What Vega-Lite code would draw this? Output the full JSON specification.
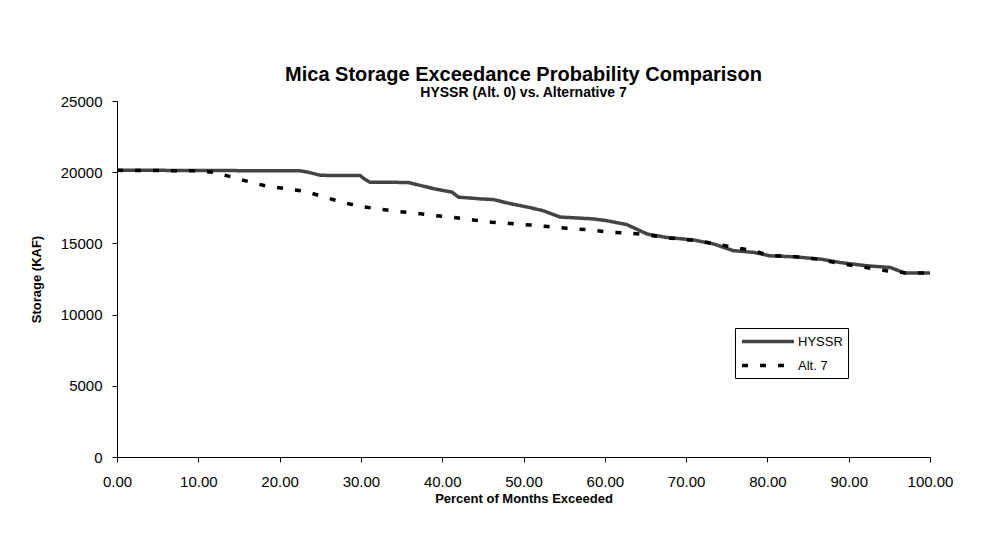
{
  "$schema": "https://vega.github.io/schema/vega-lite/v6.json",
  "width": 813,
  "height": 356,
  "autosize": {"type": "none"},
  "padding": {"left": 117, "top": 101, "right": 53, "bottom": 101},
  "background": "white",
  "title": {
    "text": "Mica Storage Exceedance Probability Comparison",
    "subtitle": "HYSSR (Alt. 0) vs. Alternative 7",
    "anchor": "middle",
    "font": "Liberation Sans",
    "fontSize": 20,
    "fontWeight": "bold",
    "color": "black",
    "subtitleFont": "Liberation Sans",
    "subtitleFontSize": 14,
    "subtitleFontWeight": "bold",
    "subtitleColor": "black",
    "subtitlePadding": 1,
    "offset": -6
  },
  "data": {
    "values": [
      {"series": "HYSSR", "pct": 0, "storage": 20130},
      {"series": "HYSSR", "pct": 5, "storage": 20130},
      {"series": "HYSSR", "pct": 10, "storage": 20120},
      {"series": "HYSSR", "pct": 15, "storage": 20110},
      {"series": "HYSSR", "pct": 22.5, "storage": 20100},
      {"series": "HYSSR", "pct": 23.5, "storage": 20000},
      {"series": "HYSSR", "pct": 25, "storage": 19780},
      {"series": "HYSSR", "pct": 29.9, "storage": 19760},
      {"series": "HYSSR", "pct": 30.5, "storage": 19500},
      {"series": "HYSSR", "pct": 31.1, "storage": 19300},
      {"series": "HYSSR", "pct": 35.8, "storage": 19280},
      {"series": "HYSSR", "pct": 38.9, "storage": 18850},
      {"series": "HYSSR", "pct": 41.2, "storage": 18600},
      {"series": "HYSSR", "pct": 42, "storage": 18250},
      {"series": "HYSSR", "pct": 44.6, "storage": 18130},
      {"series": "HYSSR", "pct": 46.3, "storage": 18080},
      {"series": "HYSSR", "pct": 48.3, "storage": 17800},
      {"series": "HYSSR", "pct": 50.5, "storage": 17550},
      {"series": "HYSSR", "pct": 52.4, "storage": 17300},
      {"series": "HYSSR", "pct": 54.5, "storage": 16850},
      {"series": "HYSSR", "pct": 58.6, "storage": 16720},
      {"series": "HYSSR", "pct": 60.2, "storage": 16600},
      {"series": "HYSSR", "pct": 62.7, "storage": 16320},
      {"series": "HYSSR", "pct": 65.2, "storage": 15660},
      {"series": "HYSSR", "pct": 67.6, "storage": 15420},
      {"series": "HYSSR", "pct": 70.9, "storage": 15240},
      {"series": "HYSSR", "pct": 73.4, "storage": 14960},
      {"series": "HYSSR", "pct": 75.8, "storage": 14490},
      {"series": "HYSSR", "pct": 78.3, "storage": 14370},
      {"series": "HYSSR", "pct": 80.3, "storage": 14130},
      {"series": "HYSSR", "pct": 83.2, "storage": 14060},
      {"series": "HYSSR", "pct": 86.5, "storage": 13900},
      {"series": "HYSSR", "pct": 88.9, "storage": 13660},
      {"series": "HYSSR", "pct": 92.2, "storage": 13430},
      {"series": "HYSSR", "pct": 95.1, "storage": 13310},
      {"series": "HYSSR", "pct": 96.9, "storage": 12920},
      {"series": "HYSSR", "pct": 100, "storage": 12920},
      {"series": "Alt. 7", "pct": 0, "storage": 20130},
      {"series": "Alt. 7", "pct": 9.4, "storage": 20100},
      {"series": "Alt. 7", "pct": 11.8, "storage": 20000},
      {"series": "Alt. 7", "pct": 14.1, "storage": 19670},
      {"series": "Alt. 7", "pct": 16.4, "storage": 19300},
      {"series": "Alt. 7", "pct": 18.6, "storage": 19000},
      {"series": "Alt. 7", "pct": 20.9, "storage": 18830},
      {"series": "Alt. 7", "pct": 23.1, "storage": 18660},
      {"series": "Alt. 7", "pct": 25.3, "storage": 18290},
      {"series": "Alt. 7", "pct": 27.7, "storage": 17890},
      {"series": "Alt. 7", "pct": 29.9, "storage": 17600},
      {"series": "Alt. 7", "pct": 32.1, "storage": 17420},
      {"series": "Alt. 7", "pct": 34.4, "storage": 17250},
      {"series": "Alt. 7", "pct": 36.9, "storage": 17110},
      {"series": "Alt. 7", "pct": 39.1, "storage": 16950},
      {"series": "Alt. 7", "pct": 41.3, "storage": 16830},
      {"series": "Alt. 7", "pct": 43.8, "storage": 16650},
      {"series": "Alt. 7", "pct": 46.1, "storage": 16480},
      {"series": "Alt. 7", "pct": 48.3, "storage": 16400},
      {"series": "Alt. 7", "pct": 50.7, "storage": 16300},
      {"series": "Alt. 7", "pct": 53, "storage": 16180},
      {"series": "Alt. 7", "pct": 55.3, "storage": 16060},
      {"series": "Alt. 7", "pct": 57.7, "storage": 15970},
      {"series": "Alt. 7", "pct": 59.9, "storage": 15830},
      {"series": "Alt. 7", "pct": 62.3, "storage": 15730},
      {"series": "Alt. 7", "pct": 64.5, "storage": 15660},
      {"series": "Alt. 7", "pct": 67.6, "storage": 15400},
      {"series": "Alt. 7", "pct": 70.9, "storage": 15220},
      {"series": "Alt. 7", "pct": 73.4, "storage": 15000},
      {"series": "Alt. 7", "pct": 75.8, "storage": 14720},
      {"series": "Alt. 7", "pct": 78.3, "storage": 14480},
      {"series": "Alt. 7", "pct": 80.3, "storage": 14150},
      {"series": "Alt. 7", "pct": 83.2, "storage": 14080},
      {"series": "Alt. 7", "pct": 86.5, "storage": 13880},
      {"series": "Alt. 7", "pct": 88.9, "storage": 13580},
      {"series": "Alt. 7", "pct": 92.2, "storage": 13300},
      {"series": "Alt. 7", "pct": 94.6, "storage": 13080},
      {"series": "Alt. 7", "pct": 96.9, "storage": 12940},
      {"series": "Alt. 7", "pct": 100, "storage": 12920}
    ]
  },
  "mark": {"type": "line", "strokeWidth": 3.5, "interpolate": "linear"},
  "encoding": {
    "x": {
      "field": "pct",
      "type": "quantitative",
      "scale": {"domain": [0, 100], "nice": false},
      "axis": {
        "title": "Percent of Months Exceeded",
        "values": [0, 10, 20, 30, 40, 50, 60, 70, 80, 90, 100],
        "format": ".2f",
        "grid": false,
        "labelFlush": false,
        "tickSize": 5,
        "labelPadding": 12,
        "titlePadding": 3
      }
    },
    "y": {
      "field": "storage",
      "type": "quantitative",
      "scale": {"domain": [0, 25000], "nice": false},
      "axis": {
        "title": "Storage (KAF)",
        "values": [0, 5000, 10000, 15000, 20000, 25000],
        "format": "d",
        "grid": false,
        "labelFlush": false,
        "tickSize": 5,
        "labelPadding": 10,
        "titlePadding": 17
      }
    },
    "color": {
      "field": "series",
      "type": "nominal",
      "scale": {"domain": ["HYSSR", "Alt. 7"], "range": ["#444444", "#000000"]},
      "legend": {
        "title": null,
        "orient": "none",
        "legendX": 618,
        "legendY": 227,
        "symbolType": "M-1,0H7",
        "symbolSize": 169,
        "symbolStrokeWidth": 3.5,
        "labelFontSize": 13,
        "labelFont": "Liberation Sans",
        "labelColor": "black",
        "labelOffset": 41,
        "rowPadding": 8,
        "strokeColor": "black",
        "padding": 5,
        "fillColor": "white"
      }
    },
    "strokeDash": {
      "field": "series",
      "type": "nominal",
      "scale": {"domain": ["HYSSR", "Alt. 7"], "range": [[1, 0], [6, 12]]},
      "legend": null
    }
  },
  "config": {
    "view": {"stroke": null},
    "font": "Liberation Sans",
    "axis": {
      "domainColor": "black",
      "tickColor": "black",
      "labelColor": "black",
      "titleColor": "black",
      "labelFont": "Liberation Sans",
      "labelFontSize": 15,
      "titleFont": "Liberation Sans",
      "titleFontSize": 13,
      "titleFontWeight": "bold"
    }
  }
}
